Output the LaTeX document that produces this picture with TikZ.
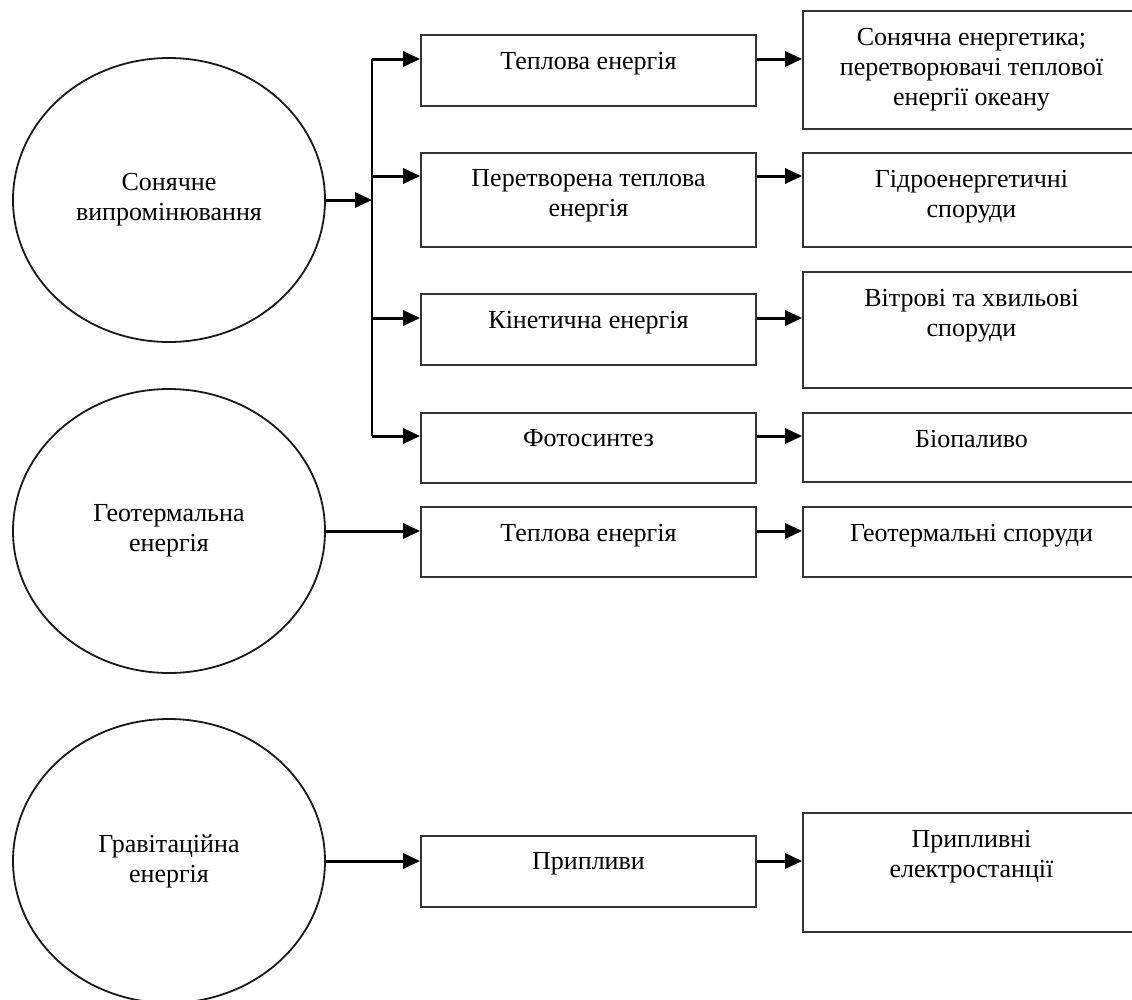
\documentclass[tikz,border=0pt]{standalone}
\usepackage{fontspec}
\setmainfont{Liberation Serif}
\usetikzlibrary{arrows.meta,shapes.geometric}
\begin{document}
\begin{tikzpicture}[x=1pt,y=-1pt,
  src/.style={draw=black!90, line width=1.8pt, ellipse, minimum width=312pt, minimum height=284pt, inner sep=0pt, align=center, font=\fontsize{26}{30}\selectfont},
  boxa/.style={draw=black!80, line width=1.7pt, rectangle, minimum width=335pt, inner sep=0pt},
  boxb/.style={draw=black!80, line width=1.7pt, rectangle, minimum width=337pt, inner sep=0pt},
  txt/.style={anchor=north, inner sep=0pt, align=center, font=\fontsize{26}{30}\selectfont, yshift=-17.5pt},
  arr/.style={line width=3pt, -{Triangle[length=17pt,width=15pt]}},
  busline/.style={line width=1.8pt},
]
\clip (0,0) rectangle (1132,999);
\fill[white] (0,0) rectangle (1132,999);

% sources
\node[src] (sun)  at (169,200) {Сонячне\\випромінювання};
\node[src] (geo)  at (169,531) {Геотермальна\\енергія};
\node[src] (grav) at (169,861) {Гравітаційна\\енергія};

% first column
\node[boxa, minimum height=71pt] (a1) at (588.5,70.5) {};
\node[boxa, minimum height=94pt] (a2) at (588.5,200) {};
\node[boxa, minimum height=71pt] (a3) at (588.5,329.5) {};
\node[boxa, minimum height=70pt] (a4) at (588.5,448) {};
\node[boxa, minimum height=70pt] (a5) at (588.5,542) {};
\node[boxa, minimum height=71pt] (a6) at (588.5,871.5) {};

% second column
\node[boxb, minimum height=118pt] (b1) at (971.5,70) {};
\node[boxb, minimum height=94pt]  (b2) at (971.5,200) {};
\node[boxb, minimum height=116pt] (b3) at (971.5,330) {};
\node[boxb, minimum height=69pt]  (b4) at (971.5,447.5) {};
\node[boxb, minimum height=70pt]  (b5) at (971.5,542) {};
\node[boxb, minimum height=119pt] (b6) at (971.5,872.5) {};

% texts
\node[txt] (ta1) at (a1.north) {Теплова енергія};
\node[txt] (ta2) at (a2.north) {Перетворена теплова\\енергія};
\node[txt] (ta3) at (a3.north) {Кінетична енергія};
\node[txt] (ta4) at (a4.north) {Фотосинтез};
\node[txt] (ta5) at (a5.north) {Теплова енергія};
\node[txt] (ta6) at (a6.north) {Припливи};
\node[txt] (tb1) at (b1.north) {Сонячна енергетика;\\перетворювачі теплової\\енергії океану};
\node[txt] (tb2) at (b2.north) {Гідроенергетичні\\споруди};
\node[txt] (tb3) at (b3.north) {Вітрові та хвильові\\споруди};
\node[txt] (tb4) at (b4.north) {Біопаливо};
\node[txt] (tb5) at (b5.north) {Геотермальні споруди};
\node[txt] (tb6) at (b6.north) {Припливні\\електростанції};

% arrow heights
\coordinate (y1) at (0,59);
\coordinate (y2) at (0,176);
\coordinate (y3) at (0,318);
\coordinate (y4) at (0,436);
\coordinate (y5) at (0,531);
\coordinate (y6) at (0,861);
\coordinate (bus) at (372,200);

% solar branch
\draw[arr] (sun.east) -- (bus);
\draw[busline] (bus |- y1) -- (bus |- y4);
\draw[arr] (bus |- y1) -- (a1.west |- y1);
\draw[arr] (bus |- y2) -- (a2.west |- y2);
\draw[arr] (bus |- y3) -- (a3.west |- y3);
\draw[arr] (bus |- y4) -- (a4.west |- y4);

% geothermal and gravitational
\draw[arr] (geo.east) -- (a5.west |- y5);
\draw[arr] (grav.east) -- (a6.west |- y6);

% second stage
\draw[arr] (a1.east |- y1) -- (b1.west |- y1);
\draw[arr] (a2.east |- y2) -- (b2.west |- y2);
\draw[arr] (a3.east |- y3) -- (b3.west |- y3);
\draw[arr] (a4.east |- y4) -- (b4.west |- y4);
\draw[arr] (a5.east |- y5) -- (b5.west |- y5);
\draw[arr] (a6.east |- y6) -- (b6.west |- y6);
\end{tikzpicture}
\end{document}
